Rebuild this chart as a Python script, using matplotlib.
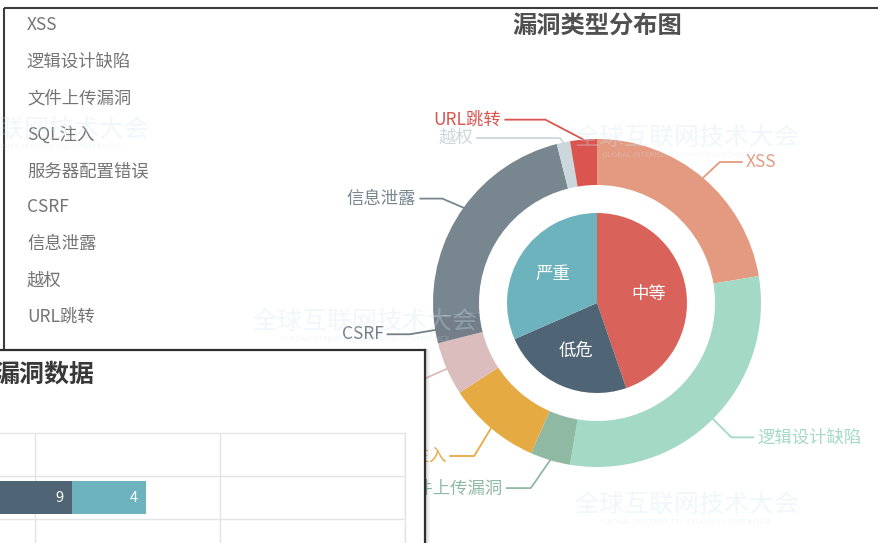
import matplotlib
matplotlib.use('Agg')
import matplotlib.pyplot as plt
import numpy as np
from matplotlib.patches import Rectangle

plt.rcParams['font.family'] = ['Noto Sans CJK SC', 'DejaVu Sans']

# ---------------- data ----------------
type_names = ['XSS', '逻辑设计缺陷', '文件上传漏洞', 'SQL注入', '服务器配置错误',
              'CSRF', '信息泄露', '越权', 'URL跳转']
type_counts = [17, 23, 3, 7, 4, 2, 17, 1, 2]
type_colors = ['#e39a80', '#a3d9c5', '#8fb9a3', '#e6aa42', '#dabdbc',
               '#737e88', '#77868f', '#ccd7dd', '#da5550']

level_names = ['中等', '低危', '严重']
level_counts = [17, 9, 12]
level_colors = ['#d9625b', '#4f6474', '#6db3bd']

bar_title = '漏洞数据'
bar_levels = ['中等', '低危', '严重']
bar_values = [3, 9, 4]
bar_ticks = [0, 10, 20, 30]

chart_title = '漏洞类型分布图'
watermark = '全球互联网技术大会'
watermark_en = 'GLOBAL INTERNET TECHNOLOGY CONFERENCE'

# ---------------- figure ----------------
W, H = 879, 543
fig = plt.figure(figsize=(W / 100, H / 100), dpi=100)
fig.patch.set_facecolor('white')

# base layer in pixel coordinates (y downwards)
base = fig.add_axes([0, 0, 1, 1])
base.set_xlim(0, W)
base.set_ylim(H, 0)
base.axis('off')
base.set_zorder(0)

# outer frame of the main panel
base.plot([4.5, 4.5], [7.5, 352], color='#3c3c3c', lw=1.5, solid_capstyle='butt')
base.plot([4.5, W], [7.5, 7.5], color='#3c3c3c', lw=1.5, solid_capstyle='butt')

# legend (text only)
for i, name in enumerate(type_names):
    base.text(27, 25 + 36.5 * i, name, ha='left', va='center',
              fontsize=12.5, color='#747474')

# title
base.text(597.5, 27, chart_title, ha='center', va='center', fontsize=17.5,
          fontweight='bold', color='#505050')

# ---------------- donut ----------------
pax = fig.add_axes([0, 0, 1, 1])
pax.set_zorder(1)
pax.patch.set_visible(False)
cx, cy = 597, H - 303
R_out, R_in, R_pie = 164, 118, 90

pax.pie(type_counts, colors=type_colors, radius=R_out, center=(cx, cy),
        startangle=90, counterclock=False,
        wedgeprops=dict(width=R_out - R_in, linewidth=0))
pax.pie(level_counts, colors=level_colors, radius=R_pie, center=(cx, cy),
        startangle=90, counterclock=False, labels=level_names,
        labeldistance=0.58,
        textprops=dict(color='white', fontsize=12.5, ha='center', va='center'),
        wedgeprops=dict(linewidth=0))
pax.set_xlim(0, W)
pax.set_ylim(0, H)
pax.set_aspect('auto')
pax.axis('off')

# label lines (ECharts-like): radial piece, then horizontal piece
len1 = 26
label_adjust = {  # name: (elbow dx, elbow dy (down), horizontal length)
    'XSS': (0, 4, 22),
    '文件上传漏洞': (-12, 3, 24),
    'SQL注入': (0, 8, 24),
    '信息泄露': (0, 6, 22),
    '越权': (2, 21, 83),
    'URL跳转': (-36, 6, 40),
}
tot = float(sum(type_counts))
cum = np.concatenate([[0], np.cumsum(type_counts)])
for i, name in enumerate(type_names):
    mid = np.radians(360.0 * (cum[i] + cum[i + 1]) / 2.0 / tot)
    s, c = np.sin(mid), np.cos(mid)
    ax0, ay0 = cx + R_out * s, cy + R_out * c
    ex, ey = cx + (R_out + len1) * s, cy + (R_out + len1) * c
    dx, dy, l2 = label_adjust.get(name, (0, 0, 22))
    ex += dx
    ey -= dy
    side = 1 if ex > cx else -1
    tx = ex + side * l2
    col = type_colors[i]
    pax.plot([ax0, ex, tx], [ay0, ey, ey], color=col, lw=1.3)
    pax.text(tx + side * 4, ey, name, ha='left' if side > 0 else 'right',
             va='center', color=col, fontsize=12.5)

# ---------------- overlapping bar panel ----------------
px0, px1, ptop = -10, 425, 350
for k in range(1, 6):
    fig.add_artist(Rectangle(((px0 + k) / W, -20 / H), (px1 - px0) / W,
                             (H - ptop + 20 + k * 0.3) / H,
                             transform=fig.transFigure, facecolor='black',
                             edgecolor='none', alpha=0.035, zorder=2.5))
pan = fig.add_axes([px0 / W, -10 / H, (px1 - px0) / W, (H - ptop + 10) / H])
pan.set_zorder(3)
pan.set_facecolor('white')
pan.set_xticks([])
pan.set_yticks([])
for sp in pan.spines.values():
    sp.set_color('#2e2e2e')
    sp.set_linewidth(1.6)

fig.text(-6 / W, 1 - 375 / H, bar_title, ha='left', va='center', fontsize=18,
         fontweight='bold', color='#383838', zorder=10)

bx = fig.add_axes([-150 / W, (H - 562) / H, 555 / W, 129 / H])
bx.set_zorder(4)
bx.patch.set_visible(False)
left = 0
for lvl, v in zip(bar_levels, bar_values):
    col = level_colors[level_names.index(lvl)]
    bx.barh([0], [v], left=left, height=0.79, color=col, linewidth=0)
    bx.annotate(str(v), xy=(left + v, 0), xytext=(-6, 0),
                textcoords='offset points', ha='right', va='center',
                color='white', fontsize=10.5)
    left += v
bx.set_xlim(bar_ticks[0], bar_ticks[-1])
bx.set_ylim(-1.5, 1.5)
bx.set_xticks(bar_ticks)
bx.set_yticks([-0.5, 0.5])
bx.tick_params(length=0, labelleft=False, labelbottom=False)
bx.grid(True, color='#e4e4e4', lw=1)
bx.set_axisbelow(True)
for name, sp in bx.spines.items():
    if name in ('top', 'right'):
        sp.set_color('#e4e4e4')
        sp.set_linewidth(1)
    else:
        sp.set_visible(False)

# ---------------- watermarks (very faint) ----------------
wm_col = '#cfe6f3'
for (x, y) in [(687, 138), (365, 322), (687, 505), (37, 130)]:
    fig.text(x / W, 1 - y / H, watermark, ha='center', va='center',
             fontsize=18, color=wm_col, alpha=0.3, zorder=20)
    fig.text(x / W, 1 - (y + 17) / H, watermark_en, ha='center', va='center',
             fontsize=5.5, color=wm_col, alpha=0.3, zorder=20)

fig.savefig('out.png', dpi=100, facecolor='white')
